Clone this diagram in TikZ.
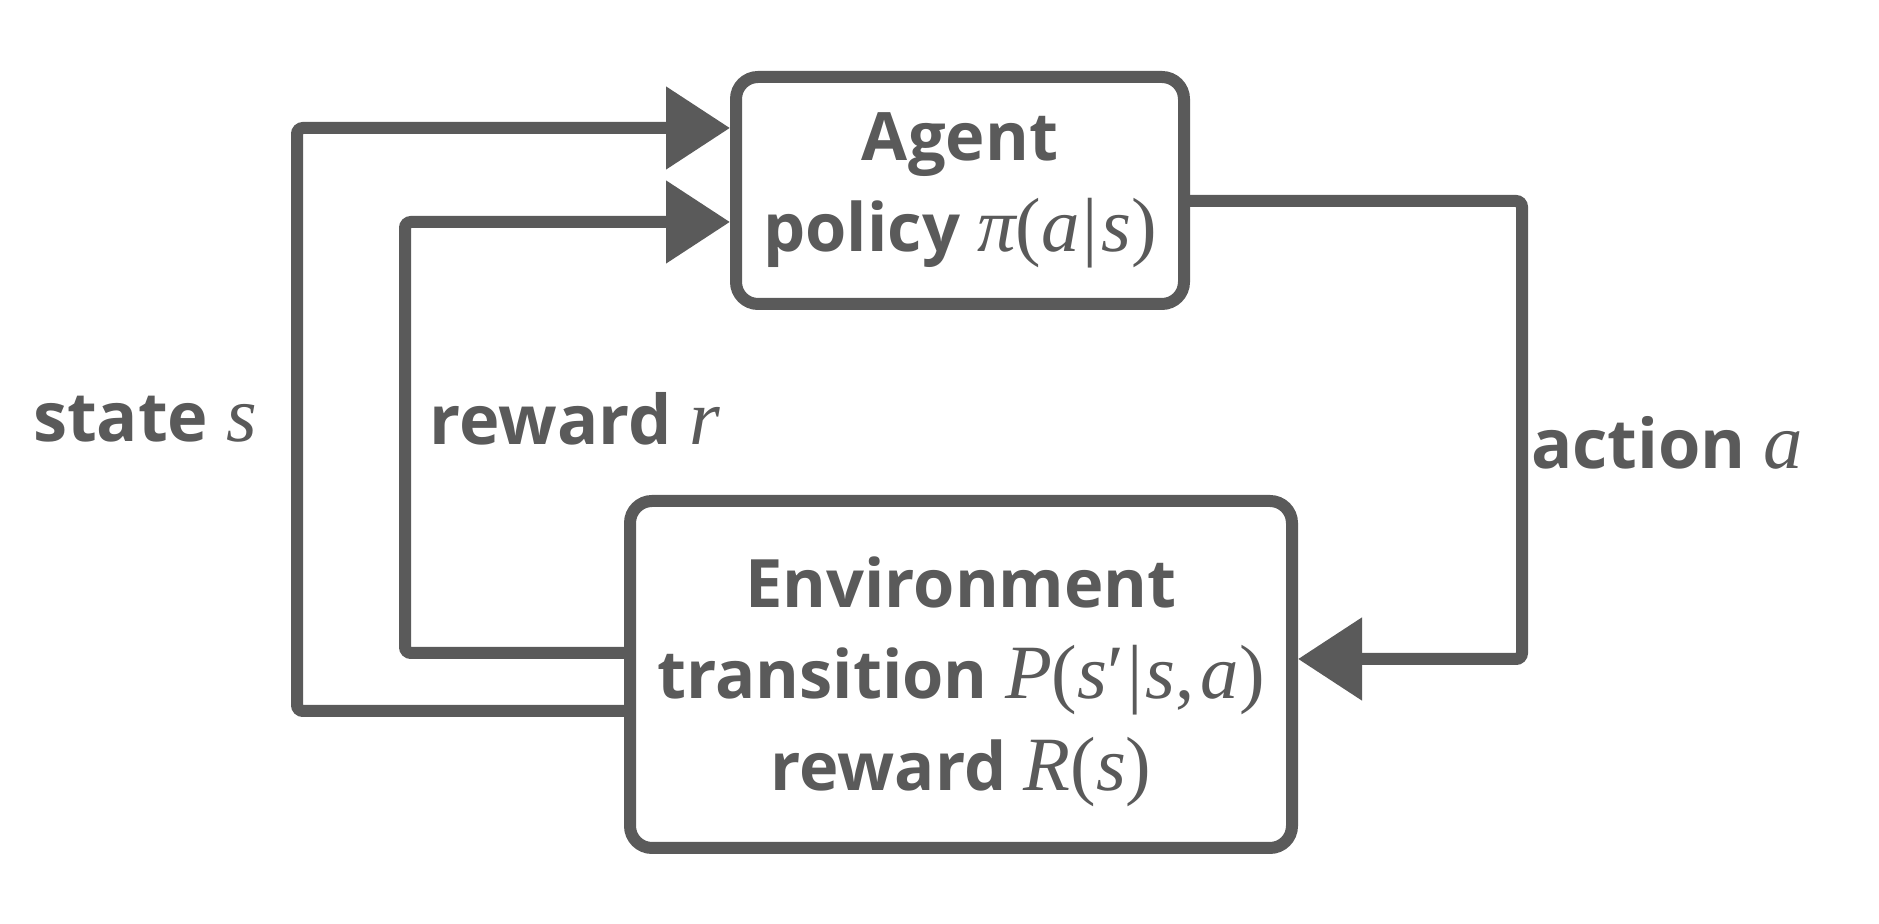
\documentclass[tikz,border=0pt]{standalone}
\usepackage{fontspec}
\setmainfont{Open Sans}
\newfontfamily\mathserif[Scale=1.15]{Liberation Serif}
\usetikzlibrary{arrows.meta, positioning}

\definecolor{chalk}{HTML}{5A5A5A}
\newcommand{\mv}[1]{{\mathserif\mdseries\itshape #1}}
\newcommand{\mup}[1]{{\mathserif\mdseries\upshape #1}}

\begin{document}
\begin{tikzpicture}[x=0.1mm, y=-0.1mm,
    box/.style={rectangle, draw=chalk, line width=1.2mm, rounded corners=2.2mm, align=center, text=chalk, font=\fontsize{19}{26}\selectfont\bfseries, inner sep=0pt},
    lbl/.style={text=chalk, font=\fontsize{19.5}{24}\selectfont\bfseries, inner sep=0pt},
    arrow/.style={draw=chalk, line width=1.2mm, rounded corners=0.6mm, -{Triangle[length=6.4mm, width=8mm]}}
]

% Canvas
\useasboundingbox (0,0) rectangle (1879,924);

% Agent
\node[box, minimum width=44.8mm, minimum height=22.7mm] (agent) at (960,190.5) {Agent\\policy \mv{π}\mup{(}\mv{a}\hspace{0.3mm}\mup{|}\hspace{0.3mm}\mv{s}\mup{)}};

% Environment
\node[box, minimum width=66.2mm, minimum height=34.7mm] (env) at (961,674.5) {\rule{0pt}{6.5mm}Environment\\transition \mv{P}\mup{(}\mv{s}\mup{′}\hspace{0.3mm}\mup{|}\hspace{0.3mm}\mv{s}\mup{,}\hspace{0.6mm}\mv{a}\mup{)}\\reward \mv{R}\mup{(}\mv{s}\mup{)}};

% Loop labels
\node[lbl] (state_lbl) at (145,419) {state \mv{s}};
\node[lbl] (reward_lbl) at (575,419) {reward \mv{r}};
\node[lbl] (action_lbl) at (1667,443) {action \mv{a}};

% Connections
\coordinate (state_turn) at (297,419);
\coordinate (reward_turn) at (405,419);
\coordinate (action_turn) at (1522,443);
\draw[arrow] ([yshift=-3.65mm]env.west) -| (state_turn) |- ([yshift=6.25mm]agent.west);
\draw[arrow] ([yshift=2.15mm]env.west) -| (reward_turn) |- ([yshift=-3.15mm]agent.west);
\draw[arrow] ([yshift=-1.05mm]agent.east) -| (action_turn) |- ([yshift=1.55mm]env.east);

\end{tikzpicture}
\end{document}
